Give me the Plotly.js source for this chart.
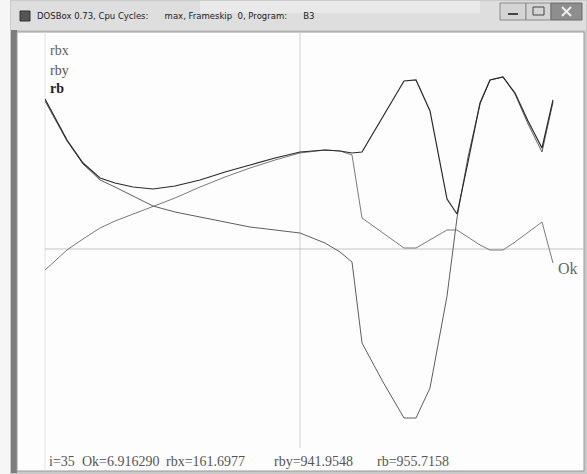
<!DOCTYPE html>
<html>
<head>
<meta charset="utf-8">
<script src="https://cdn.plot.ly/plotly-3.0.1.min.js"></script>
<style>
html,body{margin:0;padding:0;background:#fff;}
#chart{width:587px;height:474px;}
</style>
</head>
<body>
<div id="chart"></div>
<script>
// x values (Ok)
const ok = [-6.971,-6.670,-6.370,-5.932,-5.467,-5.057,-4.565,-4.019,-3.417,-2.734,-2.050,-1.367,-0.683,0.000,0.683,1.094,1.422,1.695,2.269,2.843,3.171,3.554,4.019,4.292,4.593,4.921,5.194,5.549,5.878,6.233,6.616,6.916];
const rbx = [-134.7,-70.6,-6.4,64.1,134.7,179.6,224.5,269.4,327.1,397.7,461.8,519.5,570.8,615.7,635.0,628.6,602.9,198.8,102.6,6.4,6.4,57.7,121.9,121.9,77.0,25.7,-6.4,-6.4,44.9,109.0,173.2,-89.8];
const rby = [949.3,821.0,692.7,545.2,442.6,397.7,339.9,275.8,237.3,205.2,173.2,141.1,121.9,102.6,38.5,-19.2,-83.4,-602.9,-853.1,-1084.0,-1084.0,-891.5,-301.5,198.8,590.1,930.0,1084.0,1103.2,994.2,801.8,622.2,941.95];
const rb = [962.1,827.4,699.1,551.6,455.4,423.3,397.7,384.8,404.1,442.6,493.9,538.8,583.7,622.2,635.0,628.6,615.7,622.2,853.1,1077.6,1084.0,885.1,320.7,224.5,558.0,936.4,1084.0,1103.2,1000.6,821.0,647.8,955.72];
const seriesNames = ["rbx","rby","rb"];
const titleText = "DOSBox 0.73, Cpu Cycles:      max, Frameskip  0, Program:      B3";
const readout = ["i=35","Ok=6.916290","rbx=161.6977","rby=941.9548","rb=955.7158"];
const axisLabel = "Ok";

// plot area in pixels
const L=45, R=583, T=32, B=448, W=587, H=474;
const px = p => (p - L)/(R - L);
const py = p => (B - p)/(B - T);

const traces = [
  {x: ok, y: rbx, name: seriesNames[0], mode:'lines', line:{color:'#7a7a7a', width:1}},
  {x: ok, y: rby, name: seriesNames[1], mode:'lines', line:{color:'#5e5e5e', width:1}},
  {x: ok, y: rb,  name: seriesNames[2], mode:'lines', line:{color:'#2a2a2a', width:1.2}}
];

const shapes = [
  {type:'rect', xref:'paper', yref:'paper', x0:px(0), x1:px(W), y0:py(0), y1:py(H), fillcolor:'#f6f6f6', line:{width:0}, layer:'below'},
  {type:'rect', xref:'paper', yref:'paper', x0:px(10), x1:px(587), y0:py(0), y1:py(474), fillcolor:'#c9c9c9', line:{width:0}, layer:'below'},
  {type:'rect', xref:'paper', yref:'paper', x0:px(11), x1:px(586), y0:py(1), y1:py(30), fillcolor:'#dedede', line:{width:0}, layer:'below'},
  {type:'rect', xref:'paper', yref:'paper', x0:px(200), x1:px(480), y0:py(1), y1:py(13), fillcolor:'#e9e9e9', line:{width:0}, layer:'below'},
  {type:'rect', xref:'paper', yref:'paper', x0:px(11), x1:px(17), y0:py(30), y1:py(473), fillcolor:'#7d7d7d', line:{width:0}, layer:'below'},
  {type:'rect', xref:'paper', yref:'paper', x0:px(17), x1:px(584), y0:py(32), y1:py(471), fillcolor:'#fdfdfd', line:{color:'#9a9a9a', width:1}, layer:'below'},
  {type:'rect', xref:'paper', yref:'paper', x0:px(20), x1:px(30), y0:py(11), y1:py(21), fillcolor:'#555', line:{color:'#333', width:1}},
  {type:'rect', xref:'paper', yref:'paper', x0:px(500), x1:px(526), y0:py(3), y1:py(20), fillcolor:'#d4d4d4', line:{color:'#8a8a8a', width:1}},
  {type:'rect', xref:'paper', yref:'paper', x0:px(526), x1:px(551), y0:py(3), y1:py(20), fillcolor:'#d4d4d4', line:{color:'#8a8a8a', width:1}},
  {type:'rect', xref:'paper', yref:'paper', x0:px(551), x1:px(582), y0:py(3), y1:py(20), fillcolor:'#8e8e8e', line:{color:'#6a6a6a', width:1}},
  {type:'line', xref:'paper', yref:'paper', x0:px(508), x1:px(518), y0:py(14), y1:py(14), line:{color:'#444', width:2}},
  {type:'rect', xref:'paper', yref:'paper', x0:px(533), x1:px(544), y0:py(7), y1:py(15), line:{color:'#444', width:1}},
  {type:'line', xref:'paper', yref:'paper', x0:px(562), x1:px(571), y0:py(7), y1:py(16), line:{color:'#eee', width:2}},
  {type:'line', xref:'paper', yref:'paper', x0:px(562), x1:px(571), y0:py(16), y1:py(7), line:{color:'#eee', width:2}},
  {type:'line', xref:'paper', yref:'paper', x0:0, x1:0, y0:py(32), y1:py(471), line:{color:'#e2e2e2', width:1}, layer:'below'},
  {type:'line', xref:'x', yref:'paper', x0:0, x1:0, y0:py(32), y1:py(448), line:{color:'#cfcfcf', width:1}, layer:'below'},
  {type:'line', xref:'paper', yref:'y', x0:0, x1:1, y0:0, y1:0, line:{color:'#c4c4c4', width:1}, layer:'below'}
];

const serif = "Liberation Serif, DejaVu Serif, serif";
const annotations = [
  {text: titleText, xref:'paper', yref:'paper', x:px(35), y:py(16), xanchor:'left', yanchor:'middle', showarrow:false, font:{family:'DejaVu Sans, sans-serif', size:8.5, color:'#222'}},
  {text: seriesNames[0], xref:'paper', yref:'paper', x:px(48), y:py(51), xanchor:'left', yanchor:'middle', showarrow:false, font:{family:serif, size:14, color:'#5e5e5e'}},
  {text: seriesNames[1], xref:'paper', yref:'paper', x:px(48), y:py(70), xanchor:'left', yanchor:'middle', showarrow:false, font:{family:serif, size:14, color:'#555'}},
  {text: '<b>'+seriesNames[2]+'</b>', xref:'paper', yref:'paper', x:px(48), y:py(89), xanchor:'left', yanchor:'middle', showarrow:false, font:{family:serif, size:14, color:'#222'}},
  {text: axisLabel, xref:'paper', yref:'paper', x:px(556), y:py(268), xanchor:'left', yanchor:'middle', showarrow:false, font:{family:serif, size:16, color:'#666'}},
  {text: readout[0], xref:'paper', yref:'paper', x:px(47), y:py(461), xanchor:'left', yanchor:'middle', showarrow:false, font:{family:serif, size:14, color:'#555'}},
  {text: readout[1], xref:'paper', yref:'paper', x:px(80), y:py(461), xanchor:'left', yanchor:'middle', showarrow:false, font:{family:serif, size:14, color:'#555'}},
  {text: readout[2], xref:'paper', yref:'paper', x:px(164), y:py(461), xanchor:'left', yanchor:'middle', showarrow:false, font:{family:serif, size:14, color:'#555'}},
  {text: readout[3], xref:'paper', yref:'paper', x:px(272), y:py(461), xanchor:'left', yanchor:'middle', showarrow:false, font:{family:serif, size:14, color:'#555'}},
  {text: readout[4], xref:'paper', yref:'paper', x:px(375), y:py(461), xanchor:'left', yanchor:'middle', showarrow:false, font:{family:serif, size:14, color:'#555'}}
];

const layout = {
  width: W, height: H,
  margin: {l:L, r:W-R, t:T, b:H-B, pad:0},
  paper_bgcolor:'#ffffff', plot_bgcolor:'rgba(0,0,0,0)',
  showlegend:false,
  xaxis:{range:[(L-300)/36.58, (R-300)/36.58], showgrid:false, zeroline:false, showticklabels:false, ticks:'', showline:false, fixedrange:true},
  yaxis:{range:[(249-B)*6.414, (249-T)*6.414], showgrid:false, zeroline:false, showticklabels:false, ticks:'', showline:false, fixedrange:true},
  shapes: shapes,
  annotations: annotations
};

Plotly.newPlot('chart', traces, layout, {displayModeBar:false, staticPlot:true});
</script>
</body>
</html>
